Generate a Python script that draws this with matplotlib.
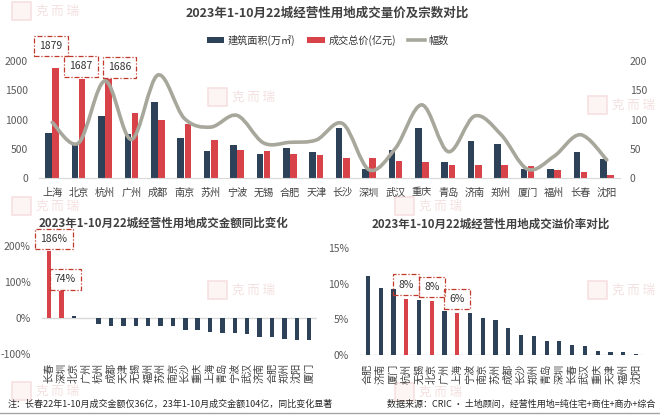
import numpy as np
import matplotlib
matplotlib.use('Agg')
import matplotlib.pyplot as plt
from matplotlib.path import Path
from matplotlib.patches import PathPatch, Rectangle, Patch
from matplotlib.lines import Line2D

plt.rcParams['font.family'] = ['Noto Sans CJK SC', 'DejaVu Sans']

# ---------------- data ----------------
cities = ['上海', '北京', '杭州', '广州', '成都', '南京', '苏州', '宁波', '无锡', '合肥', '天津',
          '长沙', '深圳', '武汉', '重庆', '青岛', '济南', '郑州', '厦门', '福州', '长春', '沈阳']
area = [767, 568, 1068, 760, 1306, 682, 454, 568, 415, 511, 443,
        852, 148, 471, 852, 273, 625, 585, 148, 159, 443, 330]
price = [1879, 1687, 1686, 1108, 994, 926, 653, 483, 466, 415, 398,
         346, 335, 290, 273, 222, 222, 222, 210, 136, 104, 50]
plots = [95, 60, 166, 66, 176, 102, 87, 107, 60, 61, 65,
         93, 14, 51, 125, 45, 106, 74, 15, 37, 74, 31]

yoy_cities = ['长春', '深圳', '北京', '广州', '杭州', '成都', '天津', '无锡', '福州', '苏州', '南京',
              '长沙', '重庆', '上海', '青岛', '宁波', '武汉', '济南', '合肥', '郑州', '沈阳', '厦门']
yoy = [186, 74, 6, -1, -17, -21, -21, -23, -23, -23, -23,
       -32, -34, -39, -43, -43, -45, -53, -54, -59, -61, -61]

prem_cities = ['合肥', '济南', '厦门', '杭州', '无锡', '北京', '广州', '上海', '宁波', '南京', '苏州',
               '成都', '长沙', '郑州', '青岛', '深圳', '长春', '武汉', '重庆', '天津', '福州', '沈阳']
premium = [11.1, 9.4, 9.2, 7.9, 7.7, 7.6, 6.2, 5.9, 5.9, 5.2, 4.9,
           3.8, 2.8, 2.7, 2.0, 1.9, 1.4, 1.3, 0.5, 0.4, 0.4, 0.1]

title_top = '2023年1-10月22城经营性用地成交量价及宗数对比'
title_bl = '2023年1-10月22城经营性用地成交金额同比变化'
title_br = '2023年1-10月22城经营性用地成交溢价率对比'
legend_labels = ['建筑面积(万㎡)', '成交总价(亿元)', '幅数']
note_left = '注：长春22年1-10月成交金额仅36亿，23年1-10月成交金额104亿，同比变化显著'
note_right = '数据来源：CRIC · 土地顾问，经营性用地=纯住宅+商住+商办+综合'
watermark = '克 而 瑞'

# ---------------- style ----------------
DARK = '#2d4258'
RED = '#d8434a'
LINE = '#a8a79c'
TICK = '#595959'
AXLINE = '#d9d9d9'
BOXEC = '#c0392b'
W, H = 660, 418

fig = plt.figure(figsize=(6.6, 4.18), dpi=100)


def fx(px):
    return px / W


def fy(py):
    return 1 - py / H


# faint watermarks
for (wx, wy) in [(12, 11), (208, 97), (588, 105), (12, 206), (395, 206),
                 (208, 290), (588, 290), (12, 391), (395, 392)]:
    fig.add_artist(Rectangle((fx(wx), fy(wy + 9)), 19 / W, 18 / H, transform=fig.transFigure,
                             facecolor='#fdf4f4', edgecolor='#f6dede', lw=1.1, zorder=0))
    fig.text(fx(wx + 24), fy(wy), watermark, fontsize=9, color='#f4e0e0',
             va='center', ha='left', zorder=0)

box_ls = (0, (4, 1.5, 1, 1.5))


def boxed(ax, text, xy, off, fs=7.5):
    ax.annotate(text, xy=xy, xytext=off, textcoords='offset pixels', ha='center', va='center',
                fontsize=fs, color='#333333', annotation_clip=False, zorder=10,
                bbox=dict(boxstyle='square,pad=0.5', fc='none', ec=BOXEC, ls=box_ls, lw=0.9))


# ---------------- top chart ----------------
ax1 = fig.add_axes([fx(39), fy(178), 581 / W, 117 / H])
ax1.patch.set_visible(False)
x = np.arange(len(cities))
ax1.bar(x - 0.135, area, width=0.25, color=DARK, zorder=2)
ax1.bar(x + 0.135, price, width=0.25, color=RED, zorder=2)
ax1.set_xlim(-0.5, len(cities) - 0.5)
ax1.set_ylim(0, 2000)
ax1.set_yticks(np.arange(0, 2001, 500))
ax1.set_xticks(x)
ax1.set_xticklabels(cities, fontsize=7.3, color='#404040')
ax1.tick_params(axis='y', length=0, labelsize=7.5, labelcolor=TICK, pad=8)
ax1.tick_params(axis='x', length=0, pad=7)
for s in ['top', 'right', 'left']:
    ax1.spines[s].set_visible(False)
ax1.spines['bottom'].set_color(AXLINE)

ax2 = ax1.twinx()
ax2.set_ylim(0, 200)
ax2.set_yticks(np.arange(0, 201, 50))
ax2.tick_params(axis='y', length=0, labelsize=7.5, labelcolor=TICK, pad=7)
for s in ax2.spines.values():
    s.set_visible(False)

pts = np.column_stack([x, plots]).astype(float)
n = len(pts)
verts = [pts[0]]
codes = [Path.MOVETO]
for i in range(n - 1):
    p0 = pts[max(i - 1, 0)]
    p1 = pts[i]
    p2 = pts[i + 1]
    p3 = pts[min(i + 2, n - 1)]
    verts += [p1 + (p2 - p0) / 6, p2 - (p3 - p1) / 6, p2]
    codes += [Path.CURVE4] * 3
ax2.add_patch(PathPatch(Path(verts, codes), facecolor='none', edgecolor=LINE, lw=2.6,
                        zorder=5, capstyle='round'))

offs_top = [(-5, 22), (-1, 13), (11, 12)]
for i in range(3):
    boxed(ax1, f'{price[i]}', (x[i] + 0.135, price[i]), offs_top[i])

handles = [Patch(facecolor=DARK), Patch(facecolor=RED), Line2D([], [], color=LINE, lw=2.6)]
fig.legend(handles, legend_labels, loc='center', bbox_to_anchor=(fx(328), fy(40)), ncol=3,
           frameon=False, fontsize=7.3, handlelength=1.7, handleheight=0.55,
           handletextpad=0.35, columnspacing=1.2, labelcolor='#333333')

fig.text(fx(327), fy(13), title_top, ha='center', va='center', fontsize=9,
         fontweight='bold', color='#404040')

# ---------------- bottom-left chart ----------------
ax3 = fig.add_axes([fx(41.6), fy(354), 275 / W, 108 / H])
ax3.patch.set_visible(False)
x3 = np.arange(len(yoy_cities))
c3 = [RED if v > 50 else DARK for v in yoy]
ax3.bar(x3, yoy, width=0.36, color=c3, zorder=2)
ax3.axhline(0, color=AXLINE, lw=1, zorder=1)
ax3.set_xlim(-0.6, len(yoy_cities) - 0.4)
ax3.set_ylim(-100, 200)
ax3.set_yticks([-100, 0, 100, 200])
ax3.set_yticklabels([f'{v}%' for v in [-100, 0, 100, 200]])
ax3.set_xticks(x3)
ax3.set_xticklabels(yoy_cities, rotation=90, fontsize=7.3, color='#404040')
ax3.tick_params(axis='y', length=0, labelsize=7.5, labelcolor=TICK, pad=8)
ax3.tick_params(axis='x', length=0, pad=6)
for s in ax3.spines.values():
    s.set_visible(False)
offs_bl = [(5, 12), (4, 12)]
for i in range(2):
    boxed(ax3, f'{yoy[i]}%', (x3[i], yoy[i]), offs_bl[i])
fig.text(fx(163), fy(223), title_bl, ha='center', va='center', fontsize=8.3,
         fontweight='bold', color='#404040')

# ---------------- bottom-right chart ----------------
ax4 = fig.add_axes([fx(360.3), fy(355), 283.3 / W, 107 / H])
ax4.patch.set_visible(False)
x4 = np.arange(len(prem_cities))
hl = cities[:3]
c4 = [RED if c in hl else DARK for c in prem_cities]
ax4.bar(x4, premium, width=0.33, color=c4, zorder=2)
ax4.axhline(0, color=AXLINE, lw=1, zorder=1)
ax4.set_xlim(-0.6, len(prem_cities) - 0.4)
ax4.set_ylim(0, 15)
ax4.set_yticks([0, 5, 10, 15])
ax4.set_yticklabels([f'{v}%' for v in [0, 5, 10, 15]])
ax4.set_xticks(x4)
ax4.set_xticklabels(prem_cities, rotation=90, fontsize=7.3, color='#404040')
ax4.tick_params(axis='y', length=0, labelsize=7.5, labelcolor=TICK, pad=8)
ax4.tick_params(axis='x', length=0, pad=6)
for s in ax4.spines.values():
    s.set_visible(False)
for i, c in enumerate(prem_cities):
    if c in hl:
        boxed(ax4, f'{premium[i]:.0f}%', (x4[i], premium[i]), (0, 14))
fig.text(fx(491), fy(224), title_br, ha='center', va='center', fontsize=8.3,
         fontweight='bold', color='#404040')

# ---------------- footer ----------------
fig.text(fx(8), fy(404), note_left, ha='left', va='center', fontsize=6.5, color='#262626')
fig.text(fx(655), fy(404), note_right, ha='right', va='center', fontsize=6.5, color='#262626')
fig.add_artist(Line2D([0, 1], [fy(413), fy(413)], transform=fig.transFigure,
                      color='#a6a6a6', lw=1))

fig.savefig('out.png', dpi=100)
